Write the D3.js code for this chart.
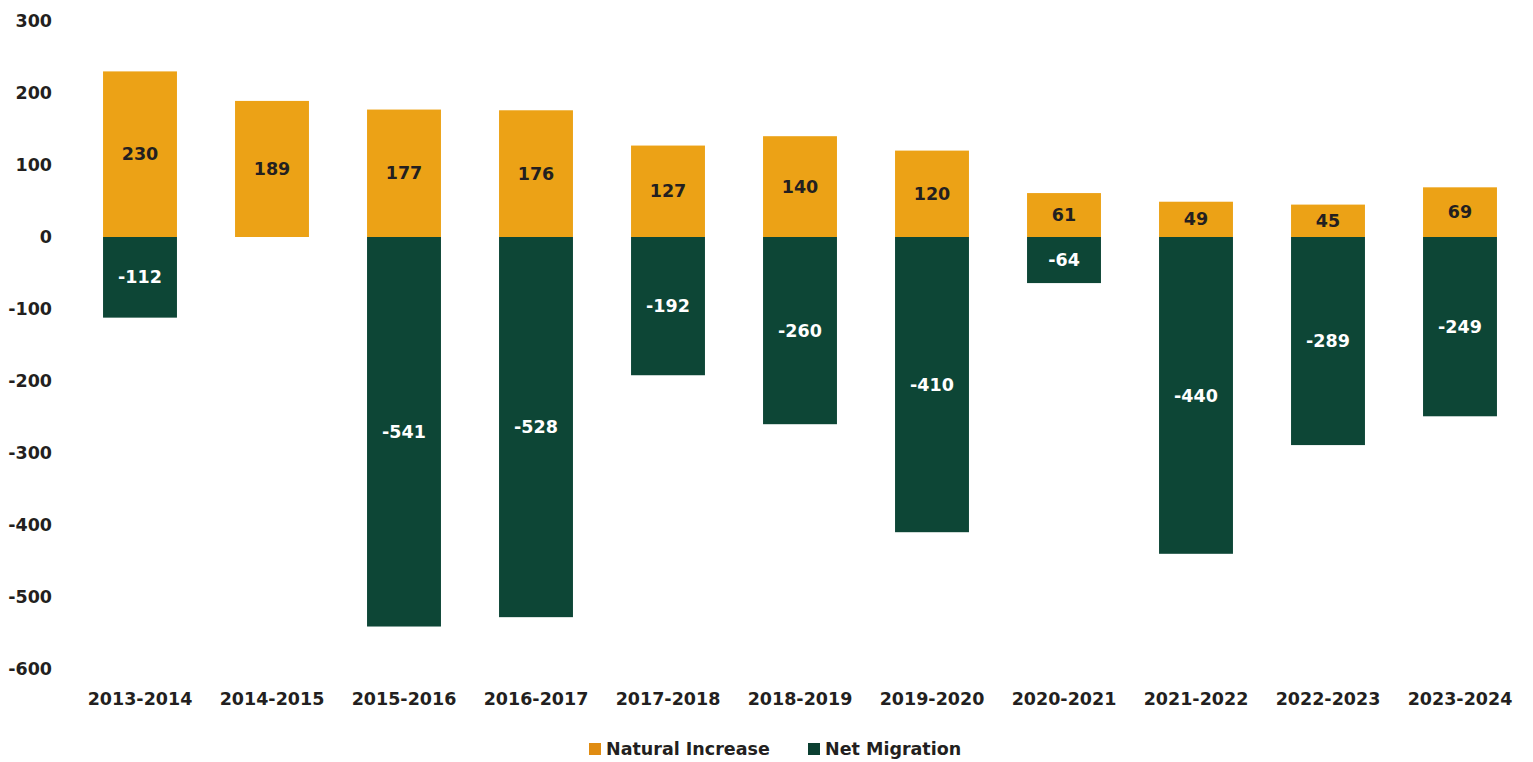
<!DOCTYPE html>
<html>
<head>
<meta charset="utf-8">
<script src="https://cdn.jsdelivr.net/npm/d3@7"></script>
<style>
  html, body { margin: 0; padding: 0; background: #ffffff; }
  svg { display: block; font-family: "DejaVu Sans", Verdana, sans-serif; }
</style>
</head>
<body>
<svg id="chart" width="1533" height="762"></svg>
<script>
// Population change components by year (thousands)
const years = ["2013-2014","2014-2015","2015-2016","2016-2017","2017-2018","2018-2019",
               "2019-2020","2020-2021","2021-2022","2022-2023","2023-2024"];
const naturalIncrease = [230, 189, 177, 176, 127, 140, 120, 61, 49, 45, 69];
const netMigration = [-112, null, -541, -528, -192, -260, -410, -64, -440, -289, -249];
const yTicks = [300, 200, 100, 0, -100, -200, -300, -400, -500, -600];
const seriesNames = ["Natural Increase", "Net Migration"];
const colors = { natural: "#ECA216", migration: "#0D4636" };

const FONT_SIZE = 17.5;
const textColor = "#231f20";

const svg = d3.select("#chart");

const x = d3.scaleBand()
  .domain(years)
  .range([74, 1526])
  .paddingInner(0.44)
  .paddingOuter(0.22);

const y = d3.scaleLinear()
  .domain([-600, 300])
  .range([669, 21]);

// Y axis labels (no line, no gridlines)
svg.append("g")
  .selectAll("text")
  .data(yTicks)
  .join("text")
  .attr("x", 52)
  .attr("y", d => y(d))
  .attr("dy", "0.35em")
  .attr("text-anchor", "end")
  .attr("font-size", FONT_SIZE)
  .attr("font-weight", "bold")
  .attr("fill", textColor)
  .text(d => d);

// X axis labels
svg.append("g")
  .selectAll("text")
  .data(years)
  .join("text")
  .attr("x", d => x(d) + x.bandwidth() / 2)
  .attr("y", 699)
  .attr("dy", "0.35em")
  .attr("text-anchor", "middle")
  .attr("font-size", FONT_SIZE)
  .attr("font-weight", "bold")
  .attr("fill", textColor)
  .text(d => d);

const natData = years.map((yr, i) => ({ year: yr, value: naturalIncrease[i] }));
const migData = years.map((yr, i) => ({ year: yr, value: netMigration[i] }))
  .filter(d => d.value !== null);

// Natural increase bars (above zero)
svg.append("g")
  .selectAll("rect")
  .data(natData)
  .join("rect")
  .attr("x", d => x(d.year))
  .attr("width", x.bandwidth())
  .attr("y", d => y(d.value))
  .attr("height", d => y(0) - y(d.value))
  .attr("fill", colors.natural);

// Net migration bars (below zero)
svg.append("g")
  .selectAll("rect")
  .data(migData)
  .join("rect")
  .attr("x", d => x(d.year))
  .attr("width", x.bandwidth())
  .attr("y", y(0))
  .attr("height", d => y(d.value) - y(0))
  .attr("fill", colors.migration);

// Value labels centred in each segment
svg.append("g")
  .selectAll("text")
  .data(natData)
  .join("text")
  .attr("x", d => x(d.year) + x.bandwidth() / 2)
  .attr("y", d => (y(d.value) + y(0)) / 2)
  .attr("dy", "0.35em")
  .attr("text-anchor", "middle")
  .attr("font-size", FONT_SIZE)
  .attr("font-weight", "bold")
  .attr("fill", textColor)
  .text(d => d.value);

svg.append("g")
  .selectAll("text")
  .data(migData)
  .join("text")
  .attr("x", d => x(d.year) + x.bandwidth() / 2)
  .attr("y", d => (y(d.value) + y(0)) / 2)
  .attr("dy", "0.35em")
  .attr("text-anchor", "middle")
  .attr("font-size", FONT_SIZE)
  .attr("font-weight", "bold")
  .attr("fill", "#ffffff")
  .text(d => d.value);

// Legend
const legend = svg.append("g");
const legendItems = [
  { name: seriesNames[0], color: "#E08C12", x: 589 },
  { name: seriesNames[1], color: "#0B3F31", x: 808 }
];
const li = legend.selectAll("g")
  .data(legendItems)
  .join("g")
  .attr("transform", d => `translate(${d.x},749)`);
li.append("rect")
  .attr("x", 0).attr("y", -6)
  .attr("width", 12).attr("height", 12)
  .attr("fill", d => d.color);
li.append("text")
  .attr("x", 17)
  .attr("dy", "0.35em")
  .attr("font-size", FONT_SIZE)
  .attr("font-weight", "bold")
  .attr("fill", textColor)
  .text(d => d.name);
</script>
</body>
</html>
